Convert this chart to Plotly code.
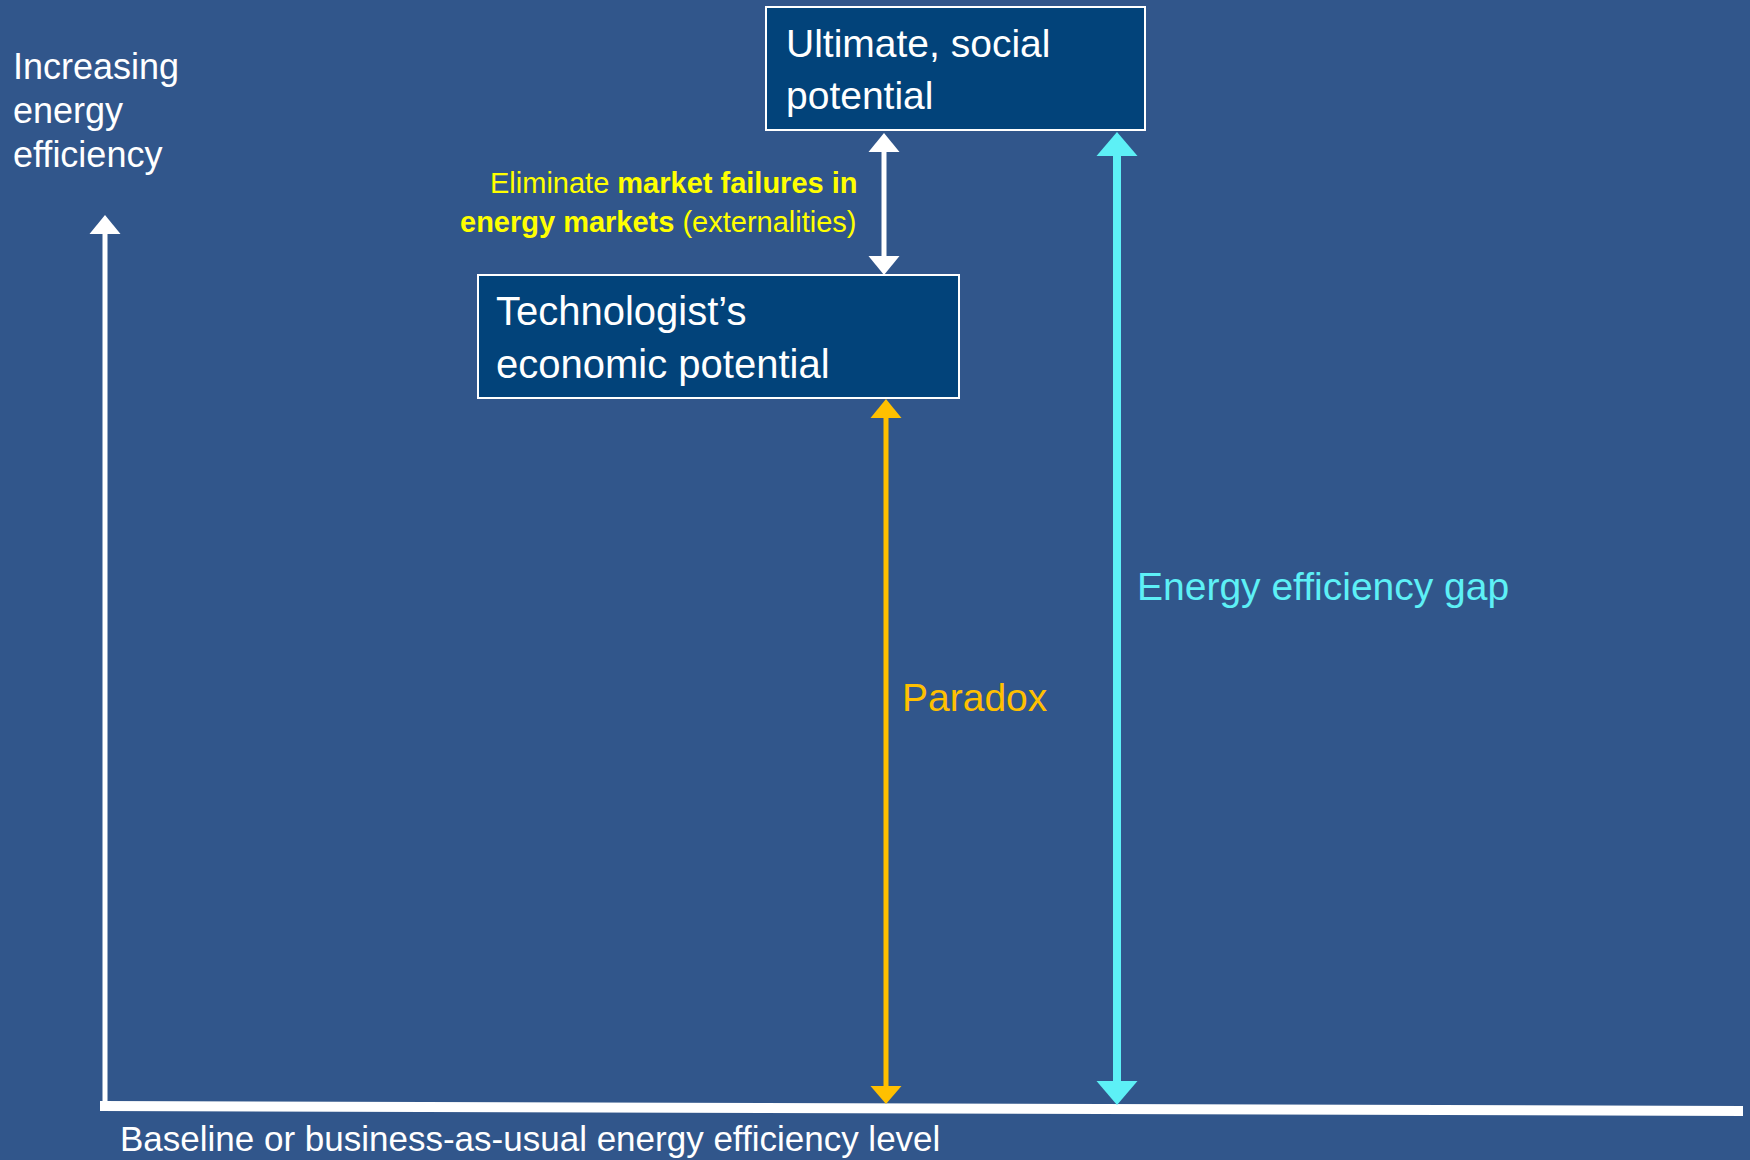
import plotly.graph_objects as go

# ---- labels -------------------------------------------------------------
axis_label_lines = ["Increasing", "energy", "efficiency"]
baseline_label = "Baseline or business-as-usual energy efficiency level"
upper_box_lines = ["Ultimate, social", "potential"]
lower_box_lines = ["Technologist\u2019s", "economic potential"]
market_lines = [
    "Eliminate <b>market failures in</b>",
    "<b>energy markets</b> (externalities)",
]
paradox_label = "Paradox"
gap_label = "Energy efficiency gap"

# ---- styling -------------------------------------------------------------
W, H = 1750, 1160
BG = "#31568B"
BOX_FILL = "#02437A"
WHITE = "#FFFFFF"
YELLOW = "#FFFF00"
ORANGE = "#FFC000"
CYAN = "#5DF0F6"
FONT = "Liberation Sans, Arial, sans-serif"

fig = go.Figure()
shapes = []
annotations = []


def head(x, tip, base, width, color):
    """Filled triangular arrowhead pointing from base to tip."""
    half = width / 2
    return dict(
        type="path",
        path=f"M {x - half} {base} L {x + half} {base} L {x} {tip} Z",
        fillcolor=color,
        line=dict(width=0),
        layer="above",
    )


def stem(x, y0, y1, width, color):
    return dict(type="line", x0=x, x1=x, y0=y0, y1=y1,
                line=dict(color=color, width=width), layer="above")


def text(x, y, s, size, color, xanchor="left"):
    annotations.append(dict(
        x=x, y=y, text=s, showarrow=False, xanchor=xanchor, yanchor="middle",
        align=xanchor if xanchor != "center" else "center",
        font=dict(family=FONT, size=size, color=color),
    ))


# vertical axis with arrowhead
shapes.append(stem(105, 1106, 230, 5, WHITE))
shapes.append(head(105, 215, 234, 31, WHITE))

# baseline (horizontal axis)
shapes.append(dict(type="line", x0=100, y0=1106, x1=1743, y1=1111,
                   line=dict(color=WHITE, width=10), layer="above"))

# potential boxes
shapes.append(dict(type="rect", x0=766, x1=1145, y0=7, y1=130,
                   fillcolor=BOX_FILL, line=dict(color=WHITE, width=2)))
shapes.append(dict(type="rect", x0=478, x1=959, y0=275, y1=398,
                   fillcolor=BOX_FILL, line=dict(color=WHITE, width=2)))

# white double arrow between boxes
shapes.append(stem(884, 148, 260, 5, WHITE))
shapes.append(head(884, 133, 152, 31, WHITE))
shapes.append(head(884, 275, 256, 31, WHITE))

# paradox arrow
shapes.append(stem(886, 414, 1090, 5, ORANGE))
shapes.append(head(886, 399, 418, 31, ORANGE))
shapes.append(head(886, 1104, 1086, 31, ORANGE))

# energy efficiency gap arrow
shapes.append(stem(1117, 150, 1085, 8, CYAN))
shapes.append(head(1117, 132, 156, 41, CYAN))
shapes.append(head(1117, 1105, 1081, 41, CYAN))

# texts
for i, line in enumerate(axis_label_lines):
    text(11, 66 + i * 44, line, 36, WHITE)
text(118, 1138, baseline_label, 35, WHITE)
for i, line in enumerate(upper_box_lines):
    text(784, 43 + i * 52, line, 39, WHITE)
for i, line in enumerate(lower_box_lines):
    text(494, 311 + i * 53, line, 40, WHITE)
for i, line in enumerate(market_lines):
    text(859, 183 + i * 39, line, 29, YELLOW, xanchor="right")
text(900, 697, paradox_label, 39, ORANGE)
text(1135, 586, gap_label, 39, CYAN)

fig.update_layout(
    width=W, height=H,
    margin=dict(l=0, r=0, t=0, b=0),
    paper_bgcolor=BG, plot_bgcolor=BG,
    xaxis=dict(range=[0, W], visible=False, fixedrange=True),
    yaxis=dict(range=[H, 0], visible=False, fixedrange=True),
    shapes=shapes,
    annotations=annotations,
    showlegend=False,
)

fig.write_html("out.html", config={"displayModeBar": False})
